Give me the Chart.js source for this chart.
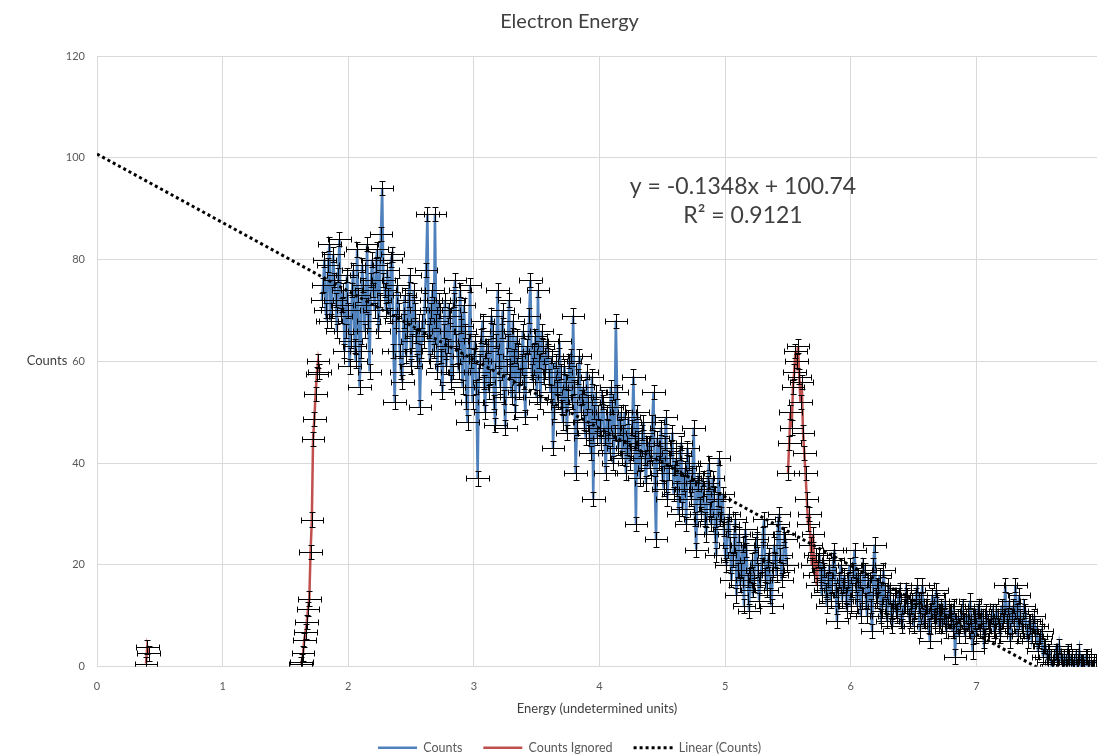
<!DOCTYPE html>
<html><head><meta charset="utf-8">
<script src="https://cdn.jsdelivr.net/npm/chart.js@4.4.1/dist/chart.umd.min.js"></script>
<style>html,body{margin:0;padding:0;background:#fff;} canvas{display:block;}</style>
</head><body>
<canvas id="c" width="1098" height="755"></canvas>
<script>
// ---- data ----
const xTickValues = [0, 1, 2, 3, 4, 5, 6, 7];
const yTickValues = [0, 20, 40, 60, 80, 100, 120];
const xStep = 0.02;          // spacing inside each Counts array (energy units)
const ignoredStep = 0.01;    // spacing of the "Counts Ignored" samples

// Counts, first stretch: even samples at 1.79, 1.81, ... 5.49
const countsAStart = 1.79;
const countsA = [
  72, 80, 68, 83, 70, 76, 66, 84, 71, 62,
  77, 59, 74, 63, 82, 55, 79, 66, 83, 58,
  80, 70, 82, 72, 94, 74, 78, 69, 81, 52,
  75, 62, 56, 73, 66, 77, 64, 70, 60, 51,
  68, 72, 89, 60, 74, 89, 58, 70, 54, 72,
  63, 69, 58, 76, 61, 74, 55, 66, 48, 75,
  52, 64, 37, 60, 68, 50, 63, 57, 66, 47.5,
  74, 55, 70, 47, 64, 58, 68, 50, 62, 57,
  66, 49, 60, 76, 56, 65, 74, 52, 63, 58,
  62, 54, 43, 60, 52, 58, 48, 56, 53, 61,
  69, 38, 57, 50, 55, 45, 52, 42, 33, 54,
  50, 44, 52, 38, 47, 55, 40, 68, 43, 50,
  46, 38, 49, 42, 57, 28, 45, 40, 48, 36,
  44, 42, 54, 25, 40, 47, 35, 49, 38, 43,
  34, 41, 30, 44, 36, 28, 40, 33, 47, 23,
  38, 30, 35, 26, 40, 28, 34, 22, 41, 30,
  27, 20, 30, 17, 24, 14, 26, 19, 12, 23,
  11, 21, 16, 25, 13, 20, 29, 15, 22, 12,
  24, 18, 30, 17, 26, 20
];
// Counts, first stretch: odd samples at 1.80, 1.82, ... 5.48
const countsAOdd = [
  75, 70, 79, 68, 81, 72, 77, 69, 74, 66,
  70, 64, 78, 60, 73, 62, 75, 71, 68, 76,
  74, 79, 66, 85, 76, 70, 73, 80, 62, 68,
  70, 58, 68, 61, 72, 59, 74, 65, 68, 62,
  64, 78, 66, 70, 62, 68, 72, 61, 66, 59,
  70, 56, 72, 64, 58, 67, 71, 52, 64, 60,
  61, 55, 58, 65, 56, 62, 54, 69, 52, 64,
  60, 66, 53, 59, 72, 53, 61, 65, 54, 60,
  56, 63, 69, 58, 62, 53, 60, 66, 57, 64,
  57, 61, 50, 55, 64, 51, 59, 46, 60, 52,
  55, 47, 61, 53, 48, 58, 46, 57, 50, 45,
  47, 53, 45, 50, 42, 51, 46, 54, 47, 41,
  50, 43, 40, 47, 44, 50, 37, 46, 41, 44,
  39, 48, 36, 45, 42, 38, 44, 33, 41, 46,
  39, 35, 42, 31, 39, 43, 35, 38, 29, 36,
  32, 37, 29, 36, 31, 37, 26, 33, 29, 34,
  22, 28, 24, 21, 29, 19, 16, 24, 27, 17,
  18, 15, 24, 19, 17, 26, 18, 21, 14, 19,
  21, 28, 22, 19, 25
];
// Counts, second stretch: even samples at 5.75, 5.77, ... 7.95
const countsBStart = 5.75;
const countsB = [
  22, 14, 19, 12, 20, 16, 23, 9, 17, 13,
  18, 11, 20, 15, 23, 12, 17, 14, 19, 10,
  16, 7, 24, 13, 18, 11, 15, 9, 14, 8,
  13, 10, 15, 8, 12, 14, 9, 13, 11, 16,
  7, 16, 10, 12, 5, 14, 9, 13, 11, 8,
  13, 9, 11, 7, 2, 10, 8, 12, 6, 10,
  13, 3, 9, 11, 7, 10, 6, 9, 8, 11,
  7, 10, 6, 9, 16, 8, 5, 12, 16, 6,
  10, 7, 11, 5, 9, 8, 6, 3, 6, 2,
  4, 1, 2, 0, 3, 1, 2, 0, 1, 3,
  1, 0, 2, 1, 0, 1, 2, 0, 1, 0, 1
];
// Counts, second stretch: odd samples at 5.76, 5.78, ... 7.94
const countsBOdd = [
  18, 21, 15, 17, 13, 21, 15, 14, 20, 16,
  14, 17, 12, 19, 16, 18, 10, 20, 13, 17,
  12, 20, 14, 16, 10, 19, 12, 16, 11, 13,
  11, 14, 9, 12, 15, 10, 12, 8, 14, 12,
  13, 9, 12, 8, 11, 10, 15, 8, 12, 10,
  7, 11, 9, 12, 8, 6, 11, 9, 10, 7,
  8, 10, 6, 12, 9, 5, 11, 8, 10, 7,
  11, 8, 12, 10, 9, 13, 10, 8, 11, 14,
  8, 12, 7, 9, 6, 10, 8, 5, 7, 4,
  2, 3, 0, 2, 1, 4, 1, 2, 0, 2,
  2, 1, 0, 3, 1, 0, 2, 1, 0, 1
];
// Counts Ignored
const ignoredAStart = 0.39;
const ignoredA = [0.6, 3.9, 2.6];
const ignoredBStart = 1.62;
const ignoredB = [0.6, 1, 2.6, 5.3, 6.9, 8.8, 11.4, 13.4, 22.6, 28.9, 44.8, 48.7, 53.6, 57.5, 60, 58];
const ignoredCStart = 5.50;
const ignoredC = [38, 44, 50, 47, 55, 58, 62, 60, 63, 57, 52, 56, 46, 42, 38, 33, 28, 30, 24, 20, 26, 18, 22, 16, 21];

// Linear trendline as printed on the chart (x in channel units = energy*100)
const trendSlope = -0.1348;
const trendIntercept = 100.74;
const trendR2 = 0.9121;
const channelsPerUnit = 100;
const xMax = 7.96;

// error bars
const errX = 0.09;
const errY = 1.4;

// ---- build datasets ----
function seg(start, step, vals) {
  return vals.map((v, i) => ({ x: +(start + i * step).toFixed(3), y: v }));
}
function interleave(start, even, odd) {
  const out = [];
  even.forEach((v, i) => {
    out.push({ x: +(start + i * xStep).toFixed(3), y: v });
    if (i < odd.length) out.push({ x: +(start + i * xStep + xStep / 2).toFixed(3), y: odd[i] });
  });
  return out;
}
const countsData = interleave(countsAStart, countsA, countsAOdd)
  .concat([{ x: 5.62, y: null }])
  .concat(interleave(countsBStart, countsB, countsBOdd));
const ignoredData = seg(ignoredAStart, ignoredStep, ignoredA)
  .concat([{ x: 1.0, y: null }])
  .concat(seg(ignoredBStart, ignoredStep, ignoredB))
  .concat([{ x: 3.5, y: null }])
  .concat(seg(ignoredCStart, ignoredStep, ignoredC));
const trendData = [0, xMax].map(x => ({ x: x, y: trendSlope * channelsPerUnit * x + trendIntercept }));

const FONT = 'Lato, "Open Sans", sans-serif';
const GREY = '#595959';
const DARK = '#404040';

const errorBarPlugin = {
  id: 'errorBars',
  afterDatasetsDraw(chart) {
    const { ctx, chartArea, scales } = chart;
    const xs = scales.x, ys = scales.y;
    ctx.save();
    ctx.beginPath();
    ctx.rect(chartArea.left, chartArea.top, chartArea.right - chartArea.left, chartArea.bottom - chartArea.top);
    ctx.clip();
    ctx.strokeStyle = '#000';
    ctx.lineWidth = 1;
    ctx.beginPath();
    [0, 1].forEach(di => {
      chart.data.datasets[di].data.forEach(p => {
        if (p.y === null) return;
        const px = Math.round(xs.getPixelForValue(p.x)) + 0.5;
        const py = Math.round(ys.getPixelForValue(p.y)) + 0.5;
        const x1 = Math.round(xs.getPixelForValue(p.x - errX)) + 0.5;
        const x2 = Math.round(xs.getPixelForValue(p.x + errX)) + 0.5;
        const y1 = Math.round(ys.getPixelForValue(p.y + errY)) + 0.5;
        const y2 = Math.round(ys.getPixelForValue(p.y - errY)) + 0.5;
        ctx.moveTo(x1, py); ctx.lineTo(x2, py);
        ctx.moveTo(x1, py - 3); ctx.lineTo(x1, py + 3);
        ctx.moveTo(x2, py - 3); ctx.lineTo(x2, py + 3);
        ctx.moveTo(px, y1); ctx.lineTo(px, y2);
        ctx.moveTo(px - 3, y1); ctx.lineTo(px + 3, y1);
        ctx.moveTo(px - 3, y2); ctx.lineTo(px + 3, y2);
      });
    });
    ctx.stroke();
    ctx.restore();
  }
};

const textPlugin = {
  id: 'extraText',
  afterDraw(chart) {
    const ctx = chart.ctx;
    ctx.save();
    ctx.fillStyle = DARK;
    ctx.font = '13px ' + FONT;
    ctx.textAlign = 'center';
    ctx.textBaseline = 'middle';
    ctx.fillText('Counts', 47, 361);
    ctx.font = '23px ' + FONT;
    const eq = 'y = ' + trendSlope + 'x + ' + trendIntercept;
    ctx.fillText(eq, 743, 187);
    ctx.fillText('R\u00B2 = ' + trendR2, 743, 216);
    ctx.restore();
  }
};

new Chart(document.getElementById('c'), {
  type: 'line',
  data: {
    datasets: [
      { label: 'Counts', data: countsData, borderColor: '#4F81BD', backgroundColor: '#4F81BD',
        borderWidth: 2.5, pointRadius: 0, spanGaps: false, tension: 0, order: 2 },
      { label: 'Counts Ignored', data: ignoredData, borderColor: '#C0504D', backgroundColor: '#C0504D',
        borderWidth: 2.5, pointRadius: 0, spanGaps: false, tension: 0, order: 1 },
      { label: 'Linear (Counts)', data: trendData, borderColor: '#000', backgroundColor: '#000',
        borderWidth: 3, borderDash: [3, 3], pointRadius: 0, tension: 0, clip: 0, order: 0 }
    ]
  },
  options: {
    responsive: false,
    animation: false,
    devicePixelRatio: 1,
    layout: { padding: { left: 42, right: 1, top: 0, bottom: -9 } },
    plugins: {
      title: { display: true, text: 'Electron Energy', color: DARK,
        font: { family: FONT, size: 20, weight: 'normal' }, padding: { top: 10, bottom: 22 } },
      legend: { display: true, position: 'bottom',
        labels: { color: GREY, font: { family: FONT, size: 12.5 }, usePointStyle: true, pointStyle: 'line',
          pointStyleWidth: 39, padding: 21,
          generateLabels: (chart) => chart.data.datasets.map((ds, i) => ({
            text: ds.label, fillStyle: ds.borderColor, strokeStyle: ds.borderColor,
            lineWidth: ds.borderWidth, lineDash: ds.borderDash || [], lineCap: 'butt',
            pointStyle: 'line', hidden: false, datasetIndex: i, fontColor: GREY })) } },
      tooltip: { enabled: false }
    },
    scales: {
      x: { type: 'linear', min: 0, max: xMax,
        afterBuildTicks: (s) => { s.ticks = xTickValues.map(v => ({ value: v })); },
        ticks: { color: GREY, font: { family: FONT, size: 11 }, padding: 13, maxRotation: 0 },
        grid: { color: '#d9d9d9', drawTicks: false },
        border: { color: '#d9d9d9' },
        title: { display: true, text: 'Energy (undetermined units)', color: DARK,
          font: { family: FONT, size: 13 }, padding: { top: -5, bottom: 4 } } },
      y: { type: 'linear', min: 0, max: 120,
        afterBuildTicks: (s) => { s.ticks = yTickValues.map(v => ({ value: v })); },
        afterFit: (s) => { s.width = 55; },
        ticks: { color: GREY, font: { family: FONT, size: 11 }, padding: 12 },
        grid: { color: '#d9d9d9', drawTicks: false },
        border: { color: '#d9d9d9' } }
    }
  },
  plugins: [errorBarPlugin, textPlugin]
});
</script>
</body></html>
